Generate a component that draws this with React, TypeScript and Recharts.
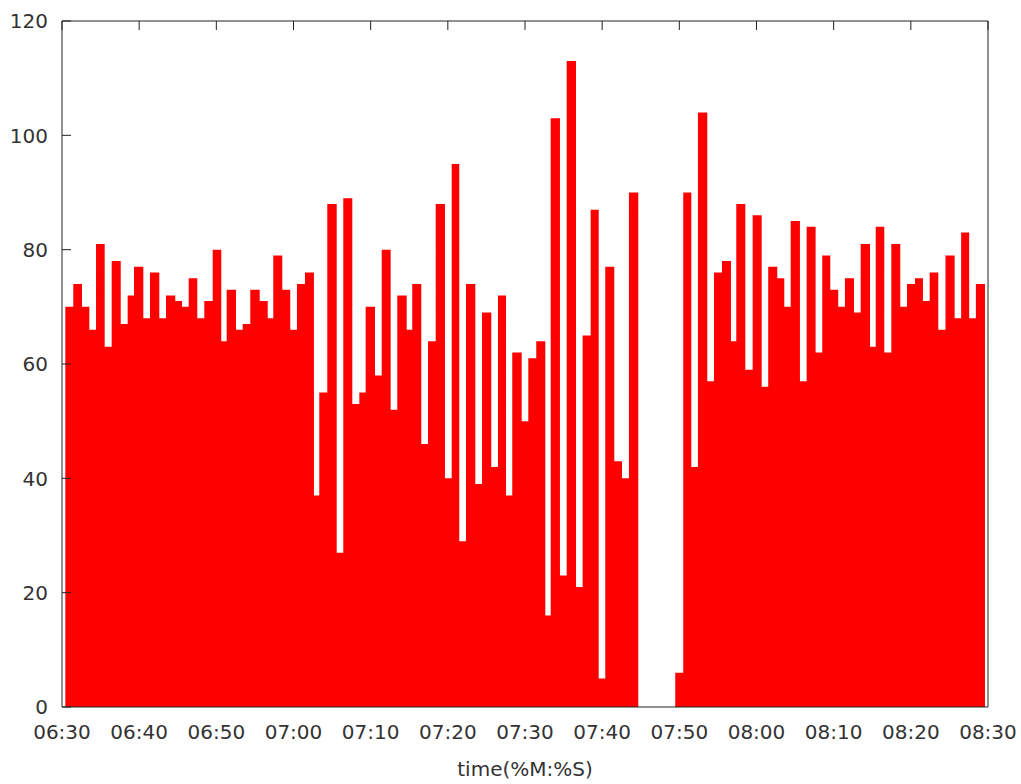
import React from "react";
import { AreaChart, Area, XAxis, YAxis, Label } from "recharts";

// Sampling boxes: left edge of each box in minutes after 06:30, and the sampled value
const boxStartMin = [
  0.43, 1.46, 2.59, 3.54, 4.41, 5.53, 6.44, 7.61, 8.51, 9.33,
  10.54, 11.4, 12.61, 13.48, 14.68, 15.55, 16.42, 17.53, 18.44, 19.53,
  20.64, 21.34, 22.55, 23.42, 24.4, 25.62, 26.66, 27.38, 28.55, 29.58,
  30.45, 31.49, 32.65, 33.34, 34.38, 35.6, 36.45, 37.62, 38.53, 39.35,
  40.56, 41.43, 42.59, 43.45, 44.67, 45.39, 46.56, 47.43, 48.43, 49.63,
  50.5, 51.48, 52.35, 53.56, 54.43, 55.63, 56.5, 57.54, 58.35, 59.57,
  60.43, 61.46, 62.63, 63.33, 64.53, 65.4, 66.61, 67.47, 68.51, 69.55,
  70.4, 71.57, 72.57, 73.47, 74.68, 75.64, 76.58, 77.54, 78.5, 79.47,
  80.51, 81.55, 82.41, 83.62, 84.49, 85.53, 86.69, 87.38, 88.55, 89.5,
  90.67, 91.52, 92.69, 93.6, 94.43, 95.63, 96.5, 97.66, 98.52, 99.56,
  100.59, 101.46, 102.63, 103.5, 104.71, 105.45, 106.56, 107.47, 108.63, 109.5,
  110.54, 111.57, 112.44, 113.56, 114.49, 115.68, 116.52, 117.56, 118.43,
];
const lastBoxEndMin = 119.61;

const values = [
  70, 74, 70, 66, 81, 63, 78, 67, 72, 77,
  68, 76, 68, 72, 71, 70, 75, 68, 71, 80,
  64, 73, 66, 67, 73, 71, 68, 79, 73, 66,
  74, 76, 37, 55, 88, 27, 89, 53, 55, 70,
  58, 80, 52, 72, 66, 74, 46, 64, 88, 40,
  95, 29, 74, 39, 69, 42, 72, 37, 62, 50,
  61, 64, 16, 103, 23, 113, 21, 65, 87, 5,
  77, 43, 40, 90, 0, 0, 0, 0, 0, 6,
  90, 42, 104, 57, 76, 78, 64, 88, 59, 86,
  56, 77, 75, 70, 85, 57, 84, 62, 79, 73,
  70, 75, 69, 81, 63, 84, 62, 81, 70, 74,
  75, 71, 76, 66, 79, 68, 83, 68, 74,
];

const startMinuteOfDay = 6 * 60 + 30;
const xTicks = [390, 400, 410, 420, 430, 440, 450, 460, 470, 480, 490, 500, 510];
const yTicks = [0, 20, 40, 60, 80, 100, 120];

const data = boxStartMin.map((s, i) => ({ t: startMinuteOfDay + s, v: values[i] }));
data.push({ t: startMinuteOfDay + lastBoxEndMin, v: values[values.length - 1] });

const pad = (n: number) => (n < 10 ? "0" + n : "" + n);
const fmtTime = (m: number) => pad(Math.floor(m / 60)) + ":" + pad(Math.round(m % 60));

const FONT = "'DejaVu Sans', sans-serif";
const TEXT = "#333";
const FRAME = "#222";
const TICK_LEN = 9;
const Y_MARGIN = 14;

const LeftTick = (props: any) => {
  const { x, y, payload } = props;
  return (
    <g>
      <line x1={x + Y_MARGIN} x2={x + Y_MARGIN + TICK_LEN} y1={y} y2={y} stroke={FRAME} strokeWidth={1} />
      <text x={x} y={y} dy="0.36em" textAnchor="end" fontFamily={FONT} fontSize={20} fill={TEXT}>
        {payload.value}
      </text>
    </g>
  );
};

const RightTick = (props: any) => {
  const { x, y } = props;
  return <line x1={x} x2={x - TICK_LEN} y1={y} y2={y} stroke={FRAME} strokeWidth={1} />;
};

const BottomTick = (props: any) => {
  const { x, y, payload } = props;
  return (
    <text x={x} y={y} dy="0.71em" textAnchor="middle" fontFamily={FONT} fontSize={20} fill={TEXT}>
      {fmtTime(payload.value)}
    </text>
  );
};

const TopTick = (props: any) => {
  const { x, y } = props;
  return <line x1={x} x2={x} y1={y} y2={y + TICK_LEN} stroke={FRAME} strokeWidth={1} />;
};

export default function App() {
  return (
    <div style={{ position: "absolute", left: 0, top: 0, width: 1021, height: 784, background: "#fff" }}>
      <AreaChart width={1021} height={784} data={data} margin={{ top: 0, right: 0, bottom: 0, left: 0 }}>
        <XAxis
          xAxisId="bottom"
          dataKey="t"
          type="number"
          domain={[390, 510]}
          ticks={xTicks}
          orientation="bottom"
          height={77}
          tickSize={0}
          tickMargin={18}
          tickLine={false}
          axisLine={{ stroke: FRAME, strokeWidth: 1 }}
          tick={<BottomTick />}
          interval={0}
        >
          <Label
            value="time(%M:%S)"
            position="insideBottom"
            offset={8}
            style={{ fontFamily: FONT, fontSize: 20, fill: TEXT }}
          />
        </XAxis>
        <XAxis
          xAxisId="top"
          dataKey="t"
          type="number"
          domain={[390, 510]}
          ticks={xTicks}
          orientation="top"
          height={21}
          tickSize={0}
          tickMargin={0}
          tickLine={false}
          axisLine={{ stroke: FRAME, strokeWidth: 1 }}
          tick={<TopTick />}
          interval={0}
        />
        <YAxis
          yAxisId="left"
          type="number"
          domain={[0, 120]}
          ticks={yTicks}
          orientation="left"
          width={62}
          tickSize={0}
          tickMargin={Y_MARGIN}
          tickLine={false}
          axisLine={{ stroke: FRAME, strokeWidth: 1 }}
          tick={<LeftTick />}
          interval={0}
        />
        <YAxis
          yAxisId="right"
          type="number"
          domain={[0, 120]}
          ticks={yTicks}
          orientation="right"
          width={33}
          tickSize={0}
          tickMargin={0}
          tickLine={false}
          axisLine={{ stroke: FRAME, strokeWidth: 1 }}
          tick={<RightTick />}
          interval={0}
        />
        <Area
          xAxisId="bottom"
          yAxisId="left"
          dataKey="v"
          type="stepAfter"
          fill="#ff0000"
          fillOpacity={1}
          stroke="none"
          dot={false}
          activeDot={false}
          isAnimationActive={false}
        />
      </AreaChart>
    </div>
  );
}
